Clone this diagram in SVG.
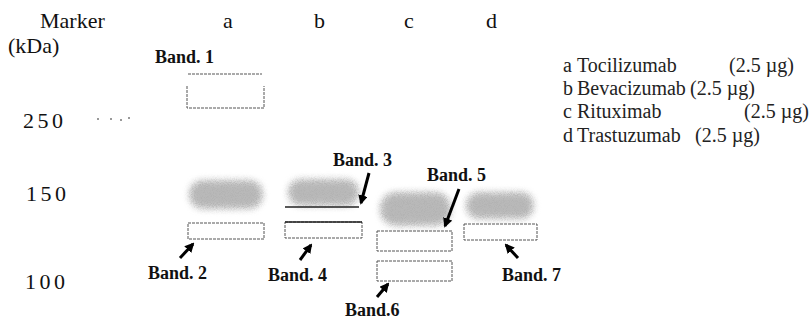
<svg xmlns="http://www.w3.org/2000/svg" width="812" height="324" viewBox="0 0 812 324" font-family="'Liberation Serif', 'DejaVu Serif', serif">
<style>
text{font-family:"Liberation Serif","DejaVu Serif",serif;fill:#111}
.hdr{font-size:22px}
.mw{font-size:22px;letter-spacing:3.5px}
.lg{font-size:20px;fill:#222}
.bl{font-size:18px;font-weight:bold}
.box{fill:none;stroke:#555;stroke-width:1;stroke-dasharray:3 1}
.lid{fill:none;stroke:#222;stroke-width:1.3}
.blob{fill:#8a8a8a;filter:url(#grain)}
.arr{stroke:#000;stroke-width:3;fill:none;marker-end:url(#ah)}
</style>
<defs>
<filter id="grain" x="-20%" y="-40%" width="140%" height="180%">
<feGaussianBlur in="SourceGraphic" stdDeviation="3.5" result="b"/>
<feTurbulence type="fractalNoise" baseFrequency="1.1" numOctaves="2" seed="7" result="n"/>
<feColorMatrix in="n" type="matrix" values="0 0 0 0 0.45  0 0 0 0 0.45  0 0 0 0 0.45  3 0 0 0 -1.1" result="nn"/>
<feComposite in="nn" in2="b" operator="in" result="g"/>
<feComponentTransfer in="b" result="bl"><feFuncA type="linear" slope="0.6"/></feComponentTransfer>
<feMerge><feMergeNode in="bl"/><feMergeNode in="g"/></feMerge>
</filter>
<marker id="ah" viewBox="0 0 10 10" refX="8" refY="5" markerWidth="3.2" markerHeight="3.2" orient="auto" markerUnits="strokeWidth">
<path d="M0,0 L10,5 L0,10 z" fill="#000"/>
</marker>
</defs>
<rect width="812" height="324" fill="#fff"/>

<g id="header">
<text class="hdr" x="40" y="28">Marker</text>
<text class="hdr" x="8" y="53">(kDa)</text>
<text class="hdr" x="223" y="28">a</text>
<text class="hdr" x="314" y="28">b</text>
<text class="hdr" x="404" y="28">c</text>
<text class="hdr" x="486" y="28">d</text>
</g>

<g id="mw-scale">
<text class="mw" x="23" y="128">250</text>
<text class="mw" x="26" y="201">150</text>
<text class="mw" x="25" y="289">100</text>
<g fill="#999"><rect x="97" y="118" width="2" height="2"/><rect x="110" y="118" width="2" height="2"/><rect x="120" y="119" width="2" height="2"/><rect x="128" y="117" width="2" height="2"/></g>
</g>

<g id="lane-a">
<line class="box" x1="188" y1="74" x2="262" y2="74"/>
<path class="box" d="M187,86 V108 H264 V86"/>
<rect class="blob" x="190" y="181" width="72" height="27" rx="13"/>
<rect class="box" x="188" y="223" width="76" height="16"/>
</g>

<g id="lane-b">
<rect class="blob" x="289" y="180" width="69" height="25" rx="12"/>
<line class="lid" x1="285" y1="207" x2="359" y2="207"/>
<rect class="box" x="285" y="222" width="77" height="16"/>
<line class="lid" x1="285" y1="222" x2="362" y2="222"/>
</g>

<g id="lane-c">
<rect class="blob" x="381" y="193" width="69" height="32" rx="15"/>
<rect class="box" x="377" y="231" width="75" height="20"/>
<rect class="box" x="377" y="261" width="75" height="20"/>
</g>

<g id="lane-d">
<rect class="blob" x="467" y="193" width="66" height="25" rx="12"/>
<rect class="box" x="464" y="224" width="73" height="16"/>
</g>

<g id="legend">
<text class="lg" x="563" y="72">a</text><text class="lg" x="577" y="72">Tocilizumab</text><text class="lg" x="729" y="72">(2.5 µg)</text>
<text class="lg" x="563" y="95">b</text><text class="lg" x="577" y="95">Bevacizumab</text><text class="lg" x="690" y="95">(2.5 µg)</text>
<text class="lg" x="563" y="118">c</text><text class="lg" x="577" y="118">Rituximab</text><text class="lg" x="744" y="118">(2.5 µg)</text>
<text class="lg" x="563" y="142">d</text><text class="lg" x="577" y="142">Trastuzumab</text><text class="lg" x="695" y="142">(2.5 µg)</text>
</g>

<g id="band-labels">
<text class="bl" x="155" y="63">Band. 1</text>
<text class="bl" x="148" y="279">Band. 2</text>
<text class="bl" x="333" y="166">Band. 3</text>
<text class="bl" x="268" y="281">Band. 4</text>
<text class="bl" x="427" y="181">Band. 5</text>
<text class="bl" x="345" y="316">Band.6</text>
<text class="bl" x="502" y="281">Band. 7</text>
</g>

<g id="connectors">
<line class="arr" x1="180" y1="258" x2="193" y2="244"/>
<line class="arr" x1="369" y1="173" x2="361" y2="203"/>
<line class="arr" x1="300" y1="260" x2="311" y2="245"/>
<line class="arr" x1="459" y1="189" x2="445" y2="226"/>
<line class="arr" x1="377" y1="297" x2="388" y2="284"/>
<line class="arr" x1="518" y1="258" x2="506" y2="245"/>
</g>
</svg>
